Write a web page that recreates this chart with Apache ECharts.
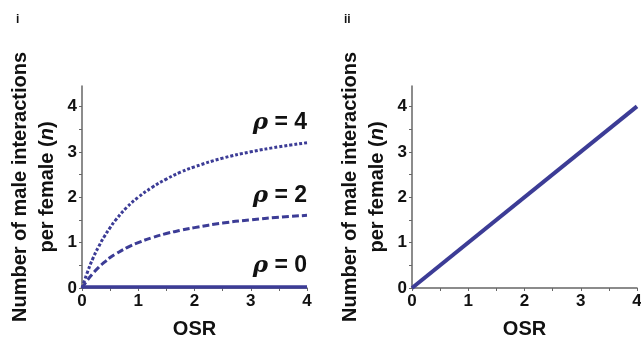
<!DOCTYPE html>
<html>
<head>
<meta charset="utf-8">
<script src="https://cdn.jsdelivr.net/npm/echarts@6/dist/echarts.min.js"></script>
<style>
html, body { margin: 0; padding: 0; background: #fff; }
#chartBox { width: 641px; height: 337px; }
</style>
</head>
<body>
<div id="chartBox"></div>
<script>
// values
var osr = [0, 0.1, 0.2, 0.3, 0.4, 0.5, 0.6, 0.8, 1, 1.25, 1.5, 1.75, 2, 2.5, 3, 3.5, 4];
var rho4 = [0, 0.36, 0.67, 0.92, 1.14, 1.33, 1.5, 1.78, 2.0, 2.22, 2.4, 2.55, 2.67, 2.86, 3.0, 3.11, 3.2];
var rho2 = [0, 0.18, 0.33, 0.46, 0.57, 0.67, 0.75, 0.89, 1.0, 1.11, 1.2, 1.27, 1.33, 1.43, 1.5, 1.56, 1.6];
var rho0 = [0.02, 0.02, 0.02, 0.02, 0.02, 0.02, 0.02, 0.02, 0.02, 0.02, 0.02, 0.02, 0.02, 0.02, 0.02, 0.02, 0.02];
var linOsr = [0, 4];
var linN = [0, 4];
var tickVals = [0, 1, 2, 3, 4];
var minorVals = [0.5, 1.5, 2.5, 3.5];

var lineColor = '#3c3c96';
var axisGray = '#666';
var font = 'Liberation Sans, Arial, sans-serif';

function pairs(xs, ys) {
    var out = [];
    for (var i = 0; i < xs.length; i++) {
        out.push([xs[i], ys[i]]);
    }
    return out;
}

function makeX(idx) {
    return {
        type: 'value',
        gridIndex: idx,
        min: 0,
        max: 4,
        name: 'OSR',
        nameLocation: 'middle',
        nameGap: 31,
        nameTextStyle: { fontFamily: font, fontWeight: 'bold', fontSize: 20, color: '#111' },
        splitLine: { show: false },
        axisLine: { lineStyle: { color: axisGray, width: 1.5 } },
        axisTick: { customValues: tickVals.concat(minorVals), length: 3, lineStyle: { color: axisGray } },
        axisLabel: { customValues: tickVals, margin: 5, fontFamily: font, fontWeight: 'bold', fontSize: 17, color: '#111' }
    };
}

function makeY(idx) {
    return {
        type: 'value',
        gridIndex: idx,
        min: 0,
        max: 4.45,
        name: '{a|Number of male interactions}\n{a|per female (}{i|n}{a|)}',
        nameLocation: 'middle',
        nameGap: 21,
        nameTextStyle: {
            fontFamily: font, fontWeight: 'bold', fontSize: 20, color: '#111', lineHeight: 27,
            rich: {
                a: { fontFamily: font, fontWeight: 'bold', fontSize: 20, color: '#111', lineHeight: 27 },
                i: { fontFamily: font, fontWeight: 'bold', fontStyle: 'italic', fontSize: 20, color: '#111', lineHeight: 27 }
            }
        },
        splitLine: { show: false },
        axisLine: { lineStyle: { color: axisGray, width: 1.5 } },
        axisTick: { customValues: tickVals.concat(minorVals), length: 3, lineStyle: { color: axisGray } },
        axisLabel: { customValues: tickVals, margin: 5, fontFamily: font, fontWeight: 'bold', fontSize: 17, color: '#111' }
    };
}

function rhoLabel(x, y, val) {
    return {
        type: 'text',
        x: x,
        y: y,
        style: {
            text: '{r|ρ}{b| = ' + val + '}',
            align: 'right',
            verticalAlign: 'middle',
            rich: {
                r: { fontFamily: 'DejaVu Serif, serif', fontStyle: 'italic', fontWeight: 'bold', fontSize: 23, fill: '#111' },
                b: { fontFamily: font, fontWeight: 'bold', fontSize: 23, fill: '#111' }
            }
        }
    };
}

var option = {
    animation: false,
    backgroundColor: '#fff',
    grid: [
        { left: 82, right: 334, top: 86, bottom: 49, outerBoundsMode: 'none', containLabel: false },
        { left: 412, right: 4, top: 86, bottom: 49, outerBoundsMode: 'none', containLabel: false }
    ],
    xAxis: [makeX(0), makeX(1)],
    yAxis: [makeY(0), makeY(1)],
    graphic: [
        { type: 'text', x: 16, y: 14, style: { text: 'i', fontFamily: font, fontWeight: 'bold', fontSize: 12, fill: '#111' } },
        { type: 'text', x: 344, y: 14, style: { text: 'ii', fontFamily: font, fontWeight: 'bold', fontSize: 12, fill: '#111' } },
        rhoLabel(307, 123, 4),
        rhoLabel(307, 196, 2),
        rhoLabel(307, 266, 0)
    ],
    series: [
        {
            type: 'line', xAxisIndex: 0, yAxisIndex: 0, smooth: true, symbol: 'none',
            data: pairs(osr, rho4),
            lineStyle: { color: lineColor, width: 3, type: [3, 2] }
        },
        {
            type: 'line', xAxisIndex: 0, yAxisIndex: 0, smooth: true, symbol: 'none',
            data: pairs(osr, rho2),
            lineStyle: { color: lineColor, width: 3, type: [7, 3] }
        },
        {
            type: 'line', xAxisIndex: 0, yAxisIndex: 0, symbol: 'none',
            data: pairs(osr, rho0),
            lineStyle: { color: lineColor, width: 3.5 }
        },
        {
            type: 'line', xAxisIndex: 1, yAxisIndex: 1, symbol: 'none', clip: false,
            data: pairs(linOsr, linN),
            lineStyle: { color: lineColor, width: 4 }
        }
    ]
};

var myChart = echarts.init(document.getElementById('chartBox'));
myChart.setOption(option);
</script>
</body>
</html>
